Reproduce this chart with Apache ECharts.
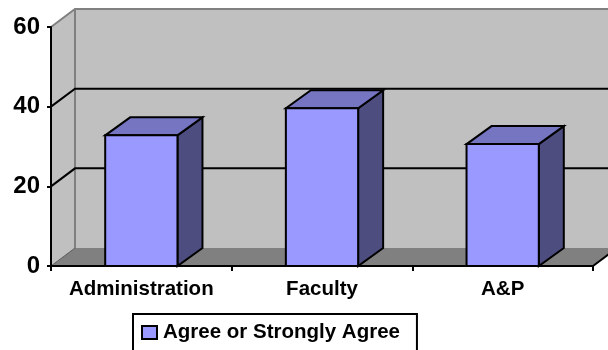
<!DOCTYPE html>
<html>
<head>
<meta charset="utf-8">
<script src="https://cdn.jsdelivr.net/npm/echarts@6/dist/echarts.min.js"></script>
<style>
  html, body { margin: 0; padding: 0; background: #ffffff; }
  #chart { width: 608px; height: 350px; }
</style>
</head>
<body>
<div id="chart"></div>
<script>
// Survey results by group
const categories = ['Administration', 'Faculty', 'A&P'];
const agreeValues = [32.8, 39.6, 30.6];
const seriesName = 'Agree or Strongly Agree';
const yTicks = { min: 0, max: 60, interval: 20 };
const wallGridValues = [20, 40];

const FONT = "'Liberation Sans', Arial, sans-serif";
const DEPTH = [24, -18];       // offset of the back plane
const BAR_DEPTH = [25, -18];   // offset of each box's back face

const chart = echarts.init(document.getElementById('chart'), null, { renderer: 'canvas' });

function renderWalls(params, api) {
  const cs = params.coordSys;
  const x0 = cs.x, x1 = cs.x + cs.width;
  const yT = cs.y, yB = cs.y + cs.height;
  const dx = DEPTH[0], dy = DEPTH[1];
  const children = [
    { type: 'rect', shape: { x: x0 + dx, y: yT + dy, width: x1 - x0, height: yB - yT },
      style: { fill: '#c0c0c0' } },
    { type: 'polygon', shape: { points: [[x0, yT], [x0 + dx, yT + dy], [x0 + dx, yB + dy], [x0, yB]] },
      style: { fill: '#c0c0c0' } },
    { type: 'polygon', shape: { points: [[x0, yB], [x0 + dx, yB + dy], [x1 + dx, yB + dy], [x1, yB]] },
      style: { fill: '#808080' } },
    { type: 'polyline', shape: { points: [[x0, yT], [x0 + dx, yT + dy], [x1 + dx, yT + dy]] },
      style: { stroke: '#808080', lineWidth: 2, fill: null } },
    { type: 'line', shape: { x1: x0 + dx, y1: yT + dy, x2: x0 + dx, y2: yB + dy },
      style: { stroke: '#808080', lineWidth: 2 } },
    { type: 'line', shape: { x1: x0, y1: yB, x2: x0 + dx, y2: yB + dy },
      style: { stroke: '#5a5a5a', lineWidth: 1 } },
    { type: 'line', shape: { x1: x1, y1: yB, x2: x1 + dx, y2: yB + dy },
      style: { stroke: '#000000', lineWidth: 2 } }
  ];
  wallGridValues.forEach(function (v) {
    const y = api.coord([0, v])[1];
    children.push({
      type: 'polyline',
      shape: { points: [[x0, y], [x0 + dx, y + dy], [x1 + dx, y + dy]] },
      style: { stroke: '#000000', lineWidth: 2, fill: null }
    });
  });
  return { type: 'group', children: children };
}

function renderBox(params, api) {
  const idx = api.value(0);
  const val = api.value(1);
  const top = api.coord([idx, val]);
  const base = api.coord([idx, 0]);
  const bw = api.size([1, 0])[0] * 0.4;
  const xl = top[0] - bw / 2, xr = top[0] + bw / 2;
  const yt = top[1], yb = base[1];
  const dx = BAR_DEPTH[0], dy = BAR_DEPTH[1];
  const edge = { stroke: '#000000', lineWidth: 2, lineJoin: 'miter' };
  return {
    type: 'group',
    children: [
      { type: 'polygon', shape: { points: [[xr, yt], [xr + dx, yt + dy], [xr + dx, yb + dy], [xr, yb]] },
        style: Object.assign({ fill: '#4d4d80' }, edge) },
      { type: 'polygon', shape: { points: [[xl, yt], [xl + dx, yt + dy], [xr + dx, yt + dy], [xr, yt]] },
        style: Object.assign({ fill: '#7575c2' }, edge) },
      { type: 'rect', shape: { x: xl, y: yt, width: bw, height: yb - yt },
        style: Object.assign({ fill: '#9999ff' }, edge) }
    ]
  };
}

const option = {
  backgroundColor: '#ffffff',
  animation: false,
  grid: { left: 51, right: 15, top: 27, bottom: 84, containLabel: false },
  legend: {
    data: [{ name: seriesName, icon: 'rect' }],
    left: 133,
    top: 314,
    orient: 'horizontal',
    padding: [8, 17, 20, 8],
    borderColor: '#000000',
    borderWidth: 2,
    itemWidth: 15,
    itemHeight: 13,
    itemStyle: { color: '#9999ff', borderColor: '#000000', borderWidth: 2 },
    textStyle: { fontFamily: FONT, fontWeight: 'bold', fontSize: 20.5, color: '#000000', padding: [0, 0, 0, 1] },
    selectedMode: false
  },
  xAxis: {
    type: 'category',
    data: categories,
    boundaryGap: true,
    axisLine: { show: true, lineStyle: { color: '#000000', width: 2 } },
    axisTick: { show: true, interval: 0, length: 5, lineStyle: { color: '#000000', width: 2 } },
    axisLabel: { interval: 0, hideOverlap: false, fontFamily: FONT, fontWeight: 'bold', fontSize: 20.5, color: '#000000', margin: 13 },
    splitLine: { show: false },
    z: 10
  },
  yAxis: {
    type: 'value',
    min: yTicks.min,
    max: yTicks.max,
    interval: yTicks.interval,
    axisLine: { show: true, lineStyle: { color: '#000000', width: 2 } },
    axisTick: { show: true, length: 4, lineStyle: { color: '#000000', width: 2 } },
    axisLabel: { fontFamily: FONT, fontWeight: 'bold', fontSize: 24, color: '#000000', margin: 11 },
    splitLine: { show: false },
    z: 10
  },
  series: [
    {
      type: 'custom',
      name: 'walls',
      silent: true,
      z: 1,
      renderItem: renderWalls,
      data: [[0, 0]],
      encode: { x: 0, y: 1 }
    },
    {
      type: 'custom',
      name: seriesName,
      z: 5,
      itemStyle: { color: '#9999ff' },
      renderItem: renderBox,
      data: categories.map(function (c, i) { return [i, agreeValues[i]]; }),
      encode: { x: 0, y: 1 }
    }
  ]
};

chart.setOption(option);
</script>
</body>
</html>
